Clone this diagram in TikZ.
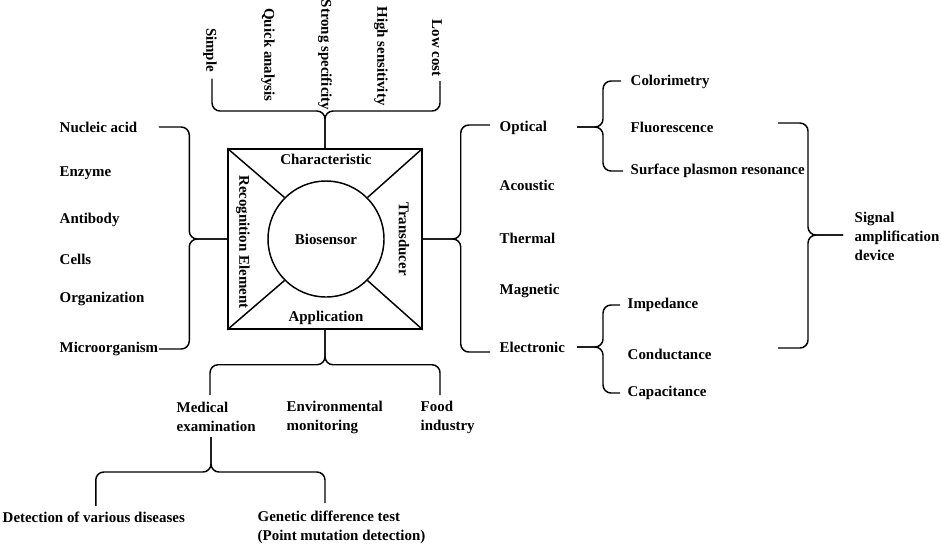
\documentclass[tikz,border=0pt]{standalone}
\usepackage{fontspec}
\setmainfont{Liberation Serif}
\usetikzlibrary{positioning}
\usetikzlibrary{calc}

\begin{document}
\begin{tikzpicture}[x=0.75pt, y=-0.75pt, line width=1.1pt,
	every node/.style={font=\bfseries\fontsize{11.2}{14.3}\selectfont, inner sep=0pt},
	leaf/.style={anchor=west, align=left},
	brace/.style={rounded corners=6pt}]
	\useasboundingbox (0,0) rectangle (941,544);
	\node[draw, minimum width=145.5pt, minimum height=135pt] (box) at (325,239) {};
	\node[draw, circle, minimum size=87pt] (bio) at (326,239) {Biosensor};
	\foreach \corner/\angle in {north west/135, north east/45, south east/-45, south west/-135}
	{
		\draw (box.\corner) -- (bio.\angle);
	}
	\node (char) at (326,159) {Characteristic};
	\node (appl) at (326,318) {Application};
	\node[rotate=-90] (recog) at (243,242) {Recognition Element};
	\node[rotate=-90] (trans) at (404,239) {Transducer};

	\foreach \feat/\x/\y [count=\i] in {Simple/210/50, Quick analysis/268/55, Strong specificity/325/55, High sensitivity/381/56, Low cost/437/48}
	{
		\node[rotate=-90] (feat\i) at (\x,\y) {\feat};
	}
	\coordinate (featjoin) at (325,111);
	\draw[brace] ($(feat1.east)+(2,6)$) |- (featjoin) -- (box.north);
	\draw[brace] ($(feat5.east)+(3,4)$) |- (featjoin) -- (box.north);

	\foreach \rec/\y [count=\i] in {Nucleic acid/127, Enzyme/173, Antibody/220, Cells/259, Organization/299, Microorganism/349}
	{
		\node[leaf] (rec\i) at (59,\y) {\rec};
	}
	\coordinate (recjoin) at ($(box.west)+(-38,0)$);
	\draw[brace] (rec1.east -| rec6.east) -| (recjoin) -- (box.west);
	\draw[brace] (rec6.east) -| (recjoin) -- (box.west);

	\foreach \tr/\y [count=\i] in {Optical/128, Acoustic/185, Thermal/238, Magnetic/291, Electronic/347}
	{
		\node[leaf] (tr\i) at (499,\y) {\tr};
	}
	\coordinate (trjoin) at ($(box.east)+(38,0)$);
	\draw[brace] (box.east) -- (trjoin) |- ($(tr1.west)+(-9,-3)$);
	\draw[brace] (box.east) -- (trjoin) |- ($(tr5.west)+(-9,5)$);

	\foreach \opt/\y [count=\i] in {Colorimetry/82, Fluorescence/127, Surface plasmon resonance/171}
	{
		\node[leaf] (opt\i) at (630,\y) {\opt};
	}
	\coordinate (optjoin) at (603,127);
	\draw[brace] ($(optjoin)+(-26,0)$) -- (optjoin) |- ($(opt1.west)+(-9,-1)$);
	\draw[brace] ($(optjoin)+(-26,0)$) -- (optjoin) |- ($(opt3.west)+(-7,0)$);

	\foreach \el/\y [count=\i] in {Impedance/305, Conductance/354, Capacitance/393}
	{
		\node[leaf] (el\i) at (627,\y) {\el};
	}
	\coordinate (eljoin) at (603,347);
	\draw[brace] ($(eljoin)+(-26,0)$) -- (eljoin) |- ($(el1.west)+(-7,0)$);
	\draw[brace] ($(eljoin)+(-26,0)$) -- (eljoin) |- ($(el3.west)+(-7,0)$);

	\node[leaf] (signal) at (854,236) {Signal\\amplification\\device};
	\coordinate (sigtop) at (778,123);
	\coordinate (sigbot) at (778,348);
	\coordinate (sigjoin) at (808,235);
	\draw[brace] (sigtop) -| (sigjoin) -- ($(signal.west)+(-11,-1)$);
	\draw[brace] (sigbot) -| (sigjoin) -- ($(signal.west)+(-11,-1)$);

	\foreach \app/\x [count=\i] in {Medical\\examination/176, Environmental\\monitoring/286, Food\\industry/420}
	{
		\node[leaf] (app\i) at (\x,417) {\app};
	}
	\coordinate (appjoin) at ($(box.south)+(0,35)$);
	\coordinate (medarm) at (210,395);
	\coordinate (foodarm) at (440,395);
	\draw[brace] (box.south) -- (appjoin) -| (medarm);
	\draw[brace] (box.south) -- (appjoin) -| (foodarm);

	\node[leaf] (det) at (2,517) {Detection of various diseases};
	\node[leaf] (gen) at (257,527) {Genetic difference test\\(Point mutation detection)};
	\coordinate (medtop) at (211,437);
	\coordinate (medjoin) at (211,472);
	\coordinate (genarm) at (325,503);
	\draw[brace] (medtop) -- (medjoin) -| ($(det.north)+(2,-5)$);
	\draw[brace] (medtop) -- (medjoin) -| (genarm);
\end{tikzpicture}
\end{document}
